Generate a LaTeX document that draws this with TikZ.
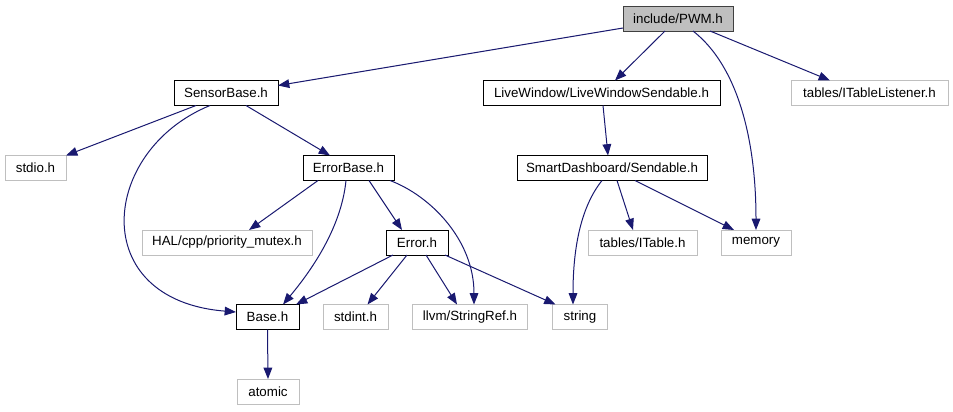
\documentclass[tikz,border=0pt]{standalone}
\usepackage{fontspec}
\setmainfont{Liberation Sans}
\usetikzlibrary{arrows.meta,calc}
\definecolor{edgeblue}{HTML}{191970}
\definecolor{extgray}{HTML}{BFBFBF}
\definecolor{rootgray}{HTML}{404040}
\begin{document}
\begin{tikzpicture}[
    x=0.75pt, y=-0.75pt,
    box/.style={draw=black, line width=0.75pt, inner sep=0pt, outer sep=0pt, minimum height=18.75pt, font=\fontsize{10}{12}\selectfont},
    extbox/.style={box, draw=extgray},
    rootbox/.style={box, draw=rootgray, fill=extgray},
    arrow/.style={edgeblue, line width=0.75pt, -{Triangle[length=8.5pt, width=6.5pt]}}
]
\useasboundingbox (0,0) rectangle (953,411);

% Nodes
\node[rootbox, minimum width=82.5pt] (pwm) at (678,18.5) {include/PWM.h};

\node[box, minimum width=78pt] (sensor) at (226,93) {SensorBase.h};
\node[box, minimum width=177.75pt] (lws) at (601.5,93) {LiveWindow/LiveWindowSendable.h};
\node[extbox, minimum width=117.75pt] (itl) at (869.5,93) {tables/ITableListener.h};

\node[extbox, minimum width=45.75pt] (stdio) at (35.5,168) {stdio.h};
\node[box, minimum width=68.25pt] (errbase) at (348.5,168) {ErrorBase.h};
\node[box, minimum width=142.5pt] (sendable) at (612,168) {SmartDashboard/Sendable.h};

\node[extbox, minimum width=127.5pt] (hal) at (227,242.5) {HAL/cpp/priority\_mutex.h};
\node[box, minimum width=46.5pt] (error) at (417,242.5) {Error.h};
\node[extbox, minimum width=81.75pt] (itable) at (642.5,242.5) {tables/ITable.h};
\node[extbox, minimum width=52.5pt] (memory) at (756,242.5) {memory};

\node[box, minimum width=47.25pt] (base) at (267.5,317) {Base.h};
\node[extbox, minimum width=48.75pt] (stdint) at (355.5,317) {stdint.h};
\node[extbox, minimum width=86.25pt] (strref) at (470,317) {llvm/StringRef.h};
\node[extbox, minimum width=41.25pt] (string) at (580,317) {string};

\node[extbox, minimum width=46.5pt] (atomic) at (268,391.5) {atomic};

% Edges from include/PWM.h
\draw[arrow] ($(pwm.south west)+(0,-3)$) -- ($(sensor.north east)+(0,5)$);
\draw[arrow] ($(pwm.south)+(-13,0)$) -- ($(lws.north)+(13.5,0)$);
\draw[arrow] ($(pwm.south)+(15,0)$) .. controls +(45,35) and +(0,-90) .. (memory.north);
\draw[arrow] ($(pwm.south)+(32,0)$) -- ($(itl.north)+(-39.5,0)$);

% Edges from SensorBase.h
\draw[arrow] ($(sensor.south)+(-30,0)$) -- (stdio.north east);
\draw[arrow] ($(sensor.south)+(-16,0)$) .. controls +(-110,45) and +(-150,-12) .. ($(base.west)+(0,-5)$);
\draw[arrow] ($(sensor.south)+(20,0)$) -- ($(errbase.north)+(-18.5,0)$);

% Edge from LiveWindow/LiveWindowSendable.h
\draw[arrow] ($(lws.south)+(1.5,0)$) -- ($(sendable.north)+(-4,0)$);

% Edges from ErrorBase.h
\draw[arrow] ($(errbase.south)+(-30.5,0)$) -- ($(hal.north)+(22,0)$);
\draw[arrow] ($(errbase.south)+(-2.5,0)$) .. controls +(-5,50) and +(25,-30) .. ($(base.north)+(15.5,0)$);
\draw[arrow] ($(errbase.south)+(20.5,0)$) -- ($(error.north)+(-15,0)$);
\draw[arrow] ($(errbase.south)+(41.5,0)$) .. controls +(40,15) and +(0,-65) .. ($(strref.north)+(4,0)$);

% Edges from Error.h
\draw[arrow] ($(error.south)+(-24,0)$) -- ($(base.north)+(28.5,0)$);
\draw[arrow] ($(error.south)+(-10,0)$) -- ($(stdint.north)+(12,0)$);
\draw[arrow] ($(error.south)+(9,0)$) -- ($(strref.north)+(-13,0)$);
\draw[arrow] ($(error.south)+(28,0)$) -- ($(string.north west)+(3,0)$);

% Edges from SmartDashboard/Sendable.h
\draw[arrow] ($(sendable.south)+(-10,0)$) .. controls +(-20,25) and +(0,-60) .. ($(string.north)+(-7,0)$);
\draw[arrow] ($(sendable.south)+(5,0)$) -- ($(itable.north)+(-9.5,0)$);
\draw[arrow] ($(sendable.south)+(23,0)$) -- ($(memory.north)+(-22,0)$);

% Edge from Base.h
\draw[arrow] (base.south) -- (atomic.north);

\end{tikzpicture}
\end{document}
